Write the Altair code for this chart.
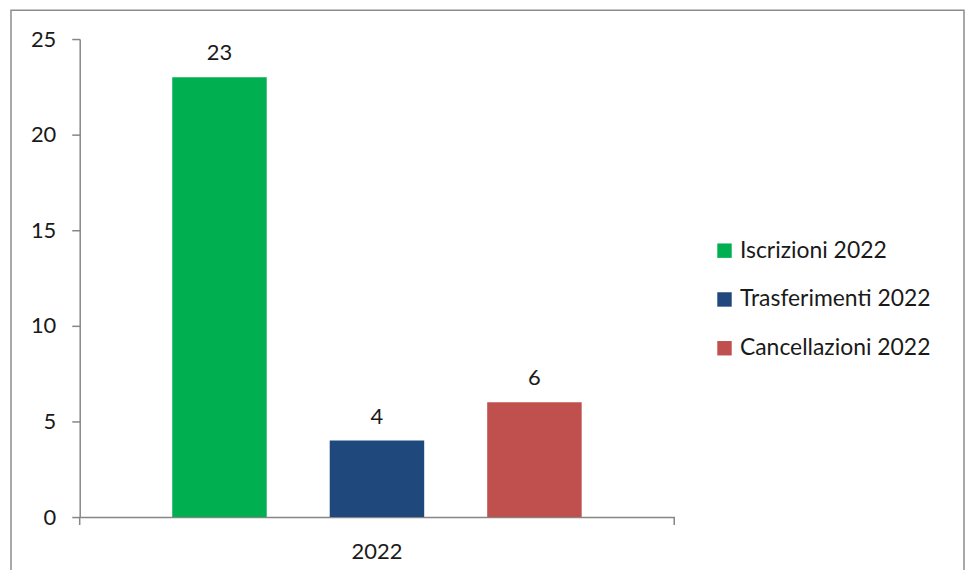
import altair as alt
import pandas as pd

categories = ["Iscrizioni 2022", "Trasferimenti 2022", "Cancellazioni 2022"]
values = [23, 4, 6]
colors = ["#00B050", "#1F497D", "#C0504D"]
year = "2022"

df = pd.DataFrame({"anno": [year] * 3, "serie": categories, "valore": values})

FONT = "Lato"
W, H = 597, 480

xenc = alt.X("anno:N", title=None,
             scale=alt.Scale(paddingInner=0, paddingOuter=0.226),
             axis=alt.Axis(labelAngle=0, ticks=False, labelPadding=25, labelFontSize=22,
                           labelFont=FONT, labelColor="#1a1a1a", domainColor="#868686",
                           domainWidth=1.5))
xoff = alt.XOffset("serie:N", sort=categories,
                   scale=alt.Scale(paddingInner=0.4, paddingOuter=0))
color = alt.Color("serie:N", sort=categories,
                  scale=alt.Scale(domain=categories, range=colors),
                  legend=alt.Legend(title=None, orient="none", legendX=636, legendY=201,
                                    symbolType="square", symbolSize=210, symbolStrokeWidth=0,
                                    labelFontSize=23, labelFont=FONT, labelColor="#1a1a1a",
                                    labelOffset=4, rowPadding=25, padding=0, labelLimit=400))

base = alt.Chart(df)

bars = base.mark_bar().encode(
    x=xenc, xOffset=xoff,
    y=alt.Y("valore:Q", title=None,
            scale=alt.Scale(domain=[0, 25], nice=False),
            axis=alt.Axis(values=[0, 5, 10, 15, 20, 25], grid=False, tickSize=8,
                          tickColor="#868686", tickWidth=1.5, domainColor="#868686",
                          domainWidth=1.5, labelFontSize=22, labelFont=FONT,
                          labelColor="#1a1a1a", labelPadding=16)),
    color=color,
)

labels = base.mark_text(baseline="alphabetic", dy=-17, fontSize=22, font=FONT,
                        color="#1a1a1a").encode(
    x=xenc, xOffset=xoff, y="valore:Q", text="valore:Q")

dummy = pd.DataFrame({"a": [1]})
tick_left = alt.Chart(dummy).mark_rule(color="#868686", strokeWidth=1.5).encode(
    x=alt.value(0), y=alt.value(H), y2=alt.value(H + 8))
tick_right = alt.Chart(dummy).mark_rule(color="#868686", strokeWidth=1.5).encode(
    x=alt.value(W), y=alt.value(H), y2=alt.value(H + 8))

border = alt.Chart(dummy).mark_rect(
    fill=None, stroke="#8c8c8c", strokeWidth=1.5, clip=False).encode(
    x=alt.value(-69), x2=alt.value(888), y=alt.value(-29), y2=alt.value(620))

chart = alt.layer(border, bars, labels, tick_left, tick_right).properties(
    width=W, height=H,
    autosize=alt.AutoSizeParams(type="none"),
    padding={"left": 72, "top": 30, "right": 292, "bottom": 52},
    background="white",
).configure_view(stroke=None)

chart.save("out.html", embed_options={"renderer": "svg", "actions": False})
